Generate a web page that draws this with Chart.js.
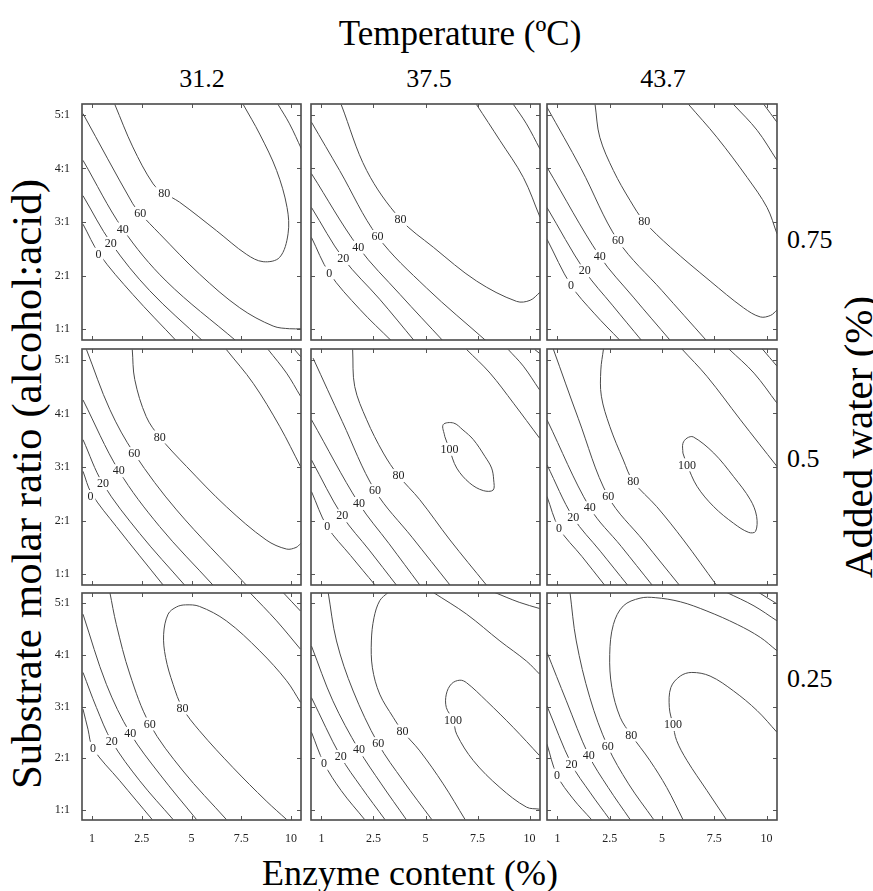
<!DOCTYPE html>
<html><head><meta charset="utf-8">
<script src="https://cdn.jsdelivr.net/npm/chart.js@4.4.0/dist/chart.umd.min.js"></script>
<style>
html,body{margin:0;padding:0;background:#fff;}
body{width:873px;height:891px;position:relative;overflow:hidden;font-family:"Liberation Serif","Times New Roman",serif;color:#000;}
.t{position:absolute;white-space:nowrap;line-height:1;transform:translate(-50%,-50%);}
.r{position:absolute;white-space:nowrap;line-height:1;transform:translate(0,-50%);}
.v{position:absolute;white-space:nowrap;line-height:1;transform:translate(-50%,-50%) rotate(-90deg);}
canvas{position:absolute;}
</style></head><body>
<div class="t" style="left:460px;top:33px;font-size:35px">Temperature (ºC)</div>
<div class="v" style="left:26px;top:484px;font-size:43px">Substrate molar ratio (alcohol:acid)</div>
<div class="v" style="left:858px;top:437px;font-size:41px">Added water (%)</div>
<div class="t" style="left:410px;top:873px;font-size:36px">Enzyme content (%)</div>
<script>
// ---- categories / tick labels ----
const temperatures = ['31.2', '37.5', '43.7'];
const waterLevels = ['0.75', '0.5', '0.25'];
const enzymeTicks = ['1', '2.5', '5', '7.5', '10'];      // shown at coded positions 0..4
const enzymeTickPos = [0, 1, 2, 3, 4];
const ratioTicks = ['1:1', '2:1', '3:1', '4:1', '5:1'];  // shown at 1..5
const ratioTickPos = [1, 2, 3, 4, 5];

// ---- contour lines per panel (level, label point, points [enzyme(coded), ratio]) ----
const w075_t312 = [
  {level:0, label:[0.13,2.40], pts:[[-0.18,2.96],[0.15,2.40],[0.82,1.65],[1.70,0.78]]},
  {level:20, label:[0.38,2.60], pts:[[-0.18,3.49],[0.39,2.60],[1.16,1.72],[2.23,0.78]]},
  {level:40, label:[0.62,2.87], pts:[[-0.18,4.15],[0.62,2.87],[1.49,1.90],[2.90,0.78]]},
  {level:60, label:[0.97,3.16], pts:[[-0.18,5.02],[0.82,3.34],[0.97,3.16],[1.36,2.78],[2.16,2.03],[2.97,1.40],[3.64,1.06],[3.97,1.01],[4.21,1.01]]},
  {level:80, label:[1.45,3.54], pts:[[0.46,5.19],[0.82,4.40],[1.23,3.71],[1.45,3.54],[1.76,3.37],[2.50,2.84],[3.10,2.40],[3.44,2.26],[3.77,2.34],[3.94,2.78],[3.92,3.27],[3.71,3.96],[3.37,4.64],[3.04,5.19]]},
  {level:60, label:null, pts:[[3.74,5.19],[3.97,4.83],[4.21,4.36]]}
];
const w075_t375 = [
  {level:0, label:[0.15,2.05], pts:[[-0.19,2.71],[0.15,2.05],[0.74,1.37],[1.35,0.78]]},
  {level:20, label:[0.42,2.32], pts:[[-0.19,3.27],[0.42,2.32],[1.12,1.56],[1.79,0.78]]},
  {level:40, label:[0.71,2.53], pts:[[-0.19,3.90],[0.71,2.53],[1.51,1.65],[2.34,0.78]]},
  {level:60, label:[1.08,2.73], pts:[[-0.19,4.86],[0.35,3.96],[1.08,2.73],[2.02,1.77],[3.17,0.78]]},
  {level:80, label:[1.52,3.05], pts:[[0.38,5.19],[0.87,3.96],[1.52,3.05],[2.15,2.53],[2.98,1.90],[3.75,1.52],[4.01,1.54],[4.20,1.69]]},
  {level:80, label:null, pts:[[2.98,5.19],[3.43,4.52],[3.88,3.83],[4.20,3.09]]},
  {level:60, label:null, pts:[[3.69,5.19],[3.94,4.83],[4.20,4.36]]}
];
const w075_t437 = [
  {level:0, label:[0.26,1.82], pts:[[-0.20,2.68],[0.26,1.82],[0.70,1.30],[1.20,0.79]]},
  {level:20, label:[0.52,2.09], pts:[[-0.20,3.27],[0.52,2.09],[1.05,1.45],[1.61,0.79]]},
  {level:40, label:[0.81,2.36], pts:[[-0.20,4.02],[0.81,2.36],[1.45,1.60],[2.16,0.79]]},
  {level:60, label:[1.16,2.65], pts:[[-0.20,5.14],[0.45,4.00],[1.16,2.65],[2.00,1.72],[2.85,0.79]]},
  {level:80, label:[1.66,3.01], pts:[[0.72,5.19],[0.81,4.58],[1.07,3.96],[1.39,3.40],[1.66,3.01],[2.16,2.53],[2.92,1.90],[3.56,1.40],[3.88,1.23],[4.08,1.26],[4.20,1.36]]},
  {level:80, label:null, pts:[[2.51,5.19],[3.05,4.58],[3.63,3.83],[4.01,3.27],[4.20,2.78]]},
  {level:60, label:null, pts:[[3.37,5.19],[3.82,4.71],[4.20,4.15]]},
  {level:40, label:null, pts:[[3.95,5.19],[4.20,4.86]]}
];
const w050_t312 = [
  {level:0, label:[-0.03,2.45], pts:[[-0.18,2.92],[-0.01,2.51],[0.49,1.89],[1.43,0.80]]},
  {level:20, label:[0.22,2.69], pts:[[-0.18,3.51],[0.22,2.69],[0.96,1.76],[1.86,0.80]]},
  {level:40, label:[0.54,2.93], pts:[[-0.18,4.25],[0.54,2.93],[1.36,1.89],[2.43,0.80]]},
  {level:60, label:[0.85,3.25], pts:[[-0.11,5.19],[0.36,4.07],[0.85,3.25],[1.70,2.20],[3.10,0.80]]},
  {level:80, label:[1.36,3.56], pts:[[0.81,5.19],[0.86,4.63],[1.09,3.94],[1.36,3.56],[1.90,3.01],[2.70,2.26],[3.50,1.64],[3.91,1.47],[4.10,1.50],[4.19,1.57]]},
  {level:80, label:null, pts:[[2.70,5.19],[3.24,4.56],[3.77,3.76],[4.19,3.01]]},
  {level:60, label:null, pts:[[3.54,5.19],[3.91,4.75],[4.19,4.32]]},
  {level:40, label:null, pts:[[4.07,5.19],[4.19,5.06]]}
];
const w050_t375 = [
  {level:0, label:[0.11,1.89], pts:[[-0.19,2.54],[0.11,1.89],[0.56,1.35],[1.03,0.80]]},
  {level:20, label:[0.40,2.09], pts:[[-0.19,3.13],[0.40,2.09],[0.92,1.45],[1.44,0.80]]},
  {level:40, label:[0.72,2.32], pts:[[-0.19,3.88],[0.72,2.32],[1.30,1.57],[1.89,0.80]]},
  {level:60, label:[1.03,2.56], pts:[[-0.16,5.03],[0.40,3.85],[1.03,2.56],[1.75,1.68],[2.47,0.80]]},
  {level:80, label:[1.48,2.84], pts:[[0.60,5.19],[0.64,4.50],[0.87,3.88],[1.19,3.26],[1.48,2.84],[1.89,2.39],[2.47,1.64],[3.17,0.80]]},
  {level:80, label:null, pts:[[2.79,5.19],[3.24,4.75],[3.69,4.19],[4.19,3.54]]},
  {level:60, label:null, pts:[[3.59,5.19],[3.88,4.88],[4.19,4.44]]},
  {level:40, label:null, pts:[[4.10,5.19],[4.19,5.12]]},
  {level:100, label:[2.46,3.33], pts:[[2.37,3.57],[2.34,3.79],[2.54,3.82],[2.72,3.69],[2.92,3.51],[3.14,3.20],[3.27,2.98],[3.31,2.76],[3.30,2.57],[3.11,2.56],[2.85,2.70],[2.60,2.98],[2.46,3.33],[2.37,3.57]]}
];
const w050_t437 = [
  {level:0, label:[0.03,1.86], pts:[[-0.20,2.45],[0.03,1.86],[0.47,1.33],[0.90,0.80]]},
  {level:20, label:[0.30,2.06], pts:[[-0.20,3.04],[0.30,2.06],[0.82,1.43],[1.34,0.80]]},
  {level:40, label:[0.62,2.24], pts:[[-0.20,3.88],[0.62,2.24],[1.22,1.52],[1.81,0.80]]},
  {level:60, label:[0.97,2.45], pts:[[-0.08,5.20],[0.40,3.90],[0.97,2.45],[1.65,1.62],[2.33,0.80]]},
  {level:80, label:[1.45,2.73], pts:[[0.88,5.20],[0.83,4.81],[0.84,4.32],[1.00,3.76],[1.26,3.13],[1.45,2.73],[1.90,2.26],[2.41,1.64],[3.04,0.80]]},
  {level:80, label:null, pts:[[2.38,5.20],[2.86,4.69],[3.50,3.88],[4.20,3.01]]},
  {level:60, label:null, pts:[[3.28,5.20],[3.76,4.75],[4.20,4.19]]},
  {level:40, label:null, pts:[[3.92,5.20],[4.20,4.88]]},
  {level:100, label:[2.48,3.04], pts:[[2.40,3.26],[2.40,3.44],[2.48,3.54],[2.60,3.56],[2.99,3.26],[3.37,2.82],[3.69,2.39],[3.81,2.08],[3.79,1.80],[3.66,1.78],[3.37,1.95],[2.99,2.26],[2.67,2.64],[2.48,3.04],[2.40,3.26]]}
];
const w025_t312 = [
  {level:0, label:[0.02,2.19], pts:[[-0.18,2.95],[-0.08,2.56],[0.02,2.19],[0.56,1.56],[1.21,0.81]]},
  {level:20, label:[0.40,2.32], pts:[[-0.18,3.66],[0.09,2.98],[0.40,2.32],[0.96,1.56],[1.63,0.81]]},
  {level:40, label:[0.77,2.48], pts:[[-0.18,4.79],[0.29,3.43],[0.77,2.48],[1.36,1.69],[2.10,0.81]]},
  {level:60, label:[1.16,2.66], pts:[[0.36,5.21],[0.49,4.59],[0.76,3.63],[1.16,2.66],[1.83,1.75],[2.70,0.81]]},
  {level:80, label:[1.82,2.97], pts:[[3.91,0.81],[3.50,1.17],[2.83,1.82],[2.16,2.53],[1.82,2.97],[1.63,3.43],[1.48,3.95],[1.44,4.40],[1.53,4.79],[1.70,4.93],[1.88,4.97],[2.16,4.94],[2.70,4.66],[3.37,4.08],[3.91,3.50],[4.19,3.08]]},
  {level:60, label:null, pts:[[3.17,5.21],[3.71,4.66],[4.19,4.11]]},
  {level:40, label:null, pts:[[3.84,5.21],[4.19,4.85]]}
];
const w025_t375 = [
  {level:0, label:[0.05,1.90], pts:[[-0.19,2.50],[0.05,1.90],[0.38,1.37],[0.83,0.81]]},
  {level:20, label:[0.37,2.03], pts:[[-0.19,3.17],[0.37,2.03],[0.77,1.43],[1.22,0.81]]},
  {level:40, label:[0.72,2.16], pts:[[-0.19,4.17],[0.22,3.11],[0.72,2.16],[1.15,1.50],[1.63,0.81]]},
  {level:60, label:[1.09,2.28], pts:[[0.13,5.21],[0.29,4.27],[0.61,3.30],[1.09,2.28],[1.57,1.56],[2.12,0.81]]},
  {level:80, label:[1.56,2.52], pts:[[1.28,5.21],[1.12,5.05],[1.01,4.72],[0.96,4.27],[0.98,3.75],[1.12,3.24],[1.38,2.79],[1.56,2.52],[1.89,2.14],[2.34,1.50],[2.76,0.81]]},
  {level:80, label:null, pts:[[2.15,5.21],[2.79,4.79],[3.43,4.27],[3.94,3.88],[4.19,3.63]]},
  {level:60, label:null, pts:[[3.33,5.21],[3.80,5.02],[4.19,4.90]]},
  {level:100, label:[2.53,2.74], pts:[[4.19,2.05],[3.69,2.59],[3.17,3.11],[2.79,3.46],[2.66,3.51],[2.50,3.44],[2.40,3.24],[2.40,2.98],[2.53,2.74],[2.60,2.46],[2.92,1.95],[3.43,1.43],[3.94,1.05],[4.19,1.01]]}
];
const w025_t437 = [
  {level:0, label:[-0.01,1.67], pts:[[-0.20,2.27],[-0.01,1.67],[0.30,1.21],[0.65,0.81]]},
  {level:20, label:[0.27,1.88], pts:[[-0.20,3.01],[0.27,1.88],[0.62,1.34],[1.00,0.81]]},
  {level:40, label:[0.60,2.05], pts:[[-0.20,4.05],[0.17,3.11],[0.60,2.05],[0.97,1.43],[1.39,0.81]]},
  {level:60, label:[0.96,2.23], pts:[[0.24,5.21],[0.36,4.27],[0.62,3.17],[0.96,2.23],[1.36,1.50],[1.84,0.81]]},
  {level:80, label:[1.41,2.45], pts:[[4.20,4.08],[3.88,4.34],[3.44,4.59],[2.86,4.85],[2.35,5.03],[1.87,5.11],[1.58,5.10],[1.26,4.95],[1.07,4.59],[1.00,4.01],[1.04,3.37],[1.20,2.79],[1.41,2.45],[1.77,1.95],[2.09,1.43],[2.40,0.81]]},
  {level:60, label:null, pts:[[3.24,5.21],[3.76,4.95],[4.20,4.66]]},
  {level:40, label:null, pts:[[3.85,5.21],[4.20,4.99]]},
  {level:100, label:[2.21,2.65], pts:[[4.20,2.50],[3.82,2.92],[3.37,3.30],[2.92,3.59],[2.57,3.66],[2.35,3.59],[2.17,3.37],[2.14,2.98],[2.21,2.65],[2.28,2.34],[2.48,1.95],[2.86,1.37],[3.23,0.81]]}
];

const panelGrid = [
  [w075_t312, w075_t375, w075_t437],
  [w050_t312, w050_t375, w050_t437],
  [w025_t312, w025_t375, w025_t437]
];

// ---- layout (pixels) ----
const colBox = [[82, 301], [311, 540], [547, 777]];
const rowBox = [[104, 340], [349, 585], [593, 820]];
const tempLabelX = [202, 429, 663];
const waterLabelY = [240, 459, 679];

temperatures.forEach((t, i) => {
  const d = document.createElement('div');
  d.className = 't'; d.textContent = t;
  d.style.cssText = `left:${tempLabelX[i]}px;top:79px;font-size:26px`;
  document.body.appendChild(d);
});
waterLevels.forEach((w, i) => {
  const d = document.createElement('div');
  d.className = 'r'; d.textContent = w;
  d.style.cssText = `left:787px;top:${waterLabelY[i]}px;font-size:26px`;
  document.body.appendChild(d);
});

const framePlugin = {
  id: 'frame',
  afterDraw(chart) {
    const ctx = chart.ctx, a = chart.chartArea, xs = chart.scales.x, ys = chart.scales.y;
    ctx.save();
    ctx.strokeStyle = '#555'; ctx.lineWidth = 1;
    ctx.beginPath();
    xs.ticks.forEach(t => {
      const x = Math.round(xs.getPixelForValue(t.value)) + 0.5;
      ctx.moveTo(x, a.bottom); ctx.lineTo(x, a.bottom - 4);
      ctx.moveTo(x, a.top); ctx.lineTo(x, a.top + 4);
    });
    ys.ticks.forEach(t => {
      const y = Math.round(ys.getPixelForValue(t.value)) + 0.5;
      ctx.moveTo(a.left, y); ctx.lineTo(a.left + 4, y);
      ctx.moveTo(a.right, y); ctx.lineTo(a.right - 4, y);
    });
    ctx.stroke();
    ctx.strokeStyle = '#4a4a4a'; ctx.lineWidth = 1.6;
    ctx.strokeRect(a.left, a.top, a.right - a.left, a.bottom - a.top);
    ctx.restore();
  }
};
const labelPlugin = {
  id: 'contourLabels',
  afterDatasetsDraw(chart) {
    const ctx = chart.ctx, xs = chart.scales.x, ys = chart.scales.y;
    ctx.save();
    ctx.font = '12px "Liberation Serif"';
    ctx.textAlign = 'center'; ctx.textBaseline = 'middle';
    chart.data.datasets.forEach(ds => {
      if (!ds.contourLabel) return;
      const px = xs.getPixelForValue(ds.contourLabel[0]);
      const py = ys.getPixelForValue(ds.contourLabel[1]);
      const w = ctx.measureText(ds.label).width + 4;
      ctx.fillStyle = '#fff';
      ctx.fillRect(px - w / 2, py - 6.5, w, 13);
      ctx.fillStyle = '#222';
      ctx.fillText(ds.label, px, py + 0.5);
    });
    ctx.restore();
  }
};

function makePanel(r, c, contours) {
  const [L, R] = colBox[c], [T, B] = rowBox[r];
  const padL = 45, padR = 16, padT = 16, padB = 24;
  const W = R - L + padL + padR, H = B - T + padT + padB;
  const cv = document.createElement('canvas');
  cv.width = W; cv.height = H;
  cv.style.left = (L - padL) + 'px'; cv.style.top = (T - padT) + 'px';
  cv.style.width = W + 'px'; cv.style.height = H + 'px';
  document.body.appendChild(cv);
  const showX = r === 2, showY = c === 0;
  const datasets = contours.map(ct => ({
    label: String(ct.level),
    contourLabel: ct.label,
    data: ct.pts.map(p => ({x: p[0], y: p[1]})),
    showLine: true, pointRadius: 0, pointHoverRadius: 0,
    borderColor: '#4a4a4a', borderWidth: 1, tension: 0.35, fill: false, clip: 0
  }));
  new Chart(cv, {
    type: 'scatter',
    data: {datasets},
    options: {
      responsive: false, animation: false, devicePixelRatio: 1,
      events: [],
      layout: {padding: {left: 0, right: padR, top: padT, bottom: 0}},
      plugins: {legend: {display: false}, tooltip: {enabled: false}},
      scales: {
        x: {
          type: 'linear', min: -0.2, max: 4.2,
          grid: {display: false}, border: {display: false},
          afterBuildTicks: s => { s.ticks = enzymeTickPos.map(v => ({value: v})); },
          afterFit: s => { s.height = padB; },
          ticks: {display: showX, padding: 4, color: '#222', autoSkip: false, maxRotation: 0,
                  font: {family: 'Liberation Serif', size: 12},
                  callback: (v, i) => enzymeTicks[i]}
        },
        y: {
          type: 'linear', min: 0.8, max: 5.2,
          grid: {display: false}, border: {display: false},
          afterBuildTicks: s => { s.ticks = ratioTickPos.map(v => ({value: v})); },
          afterFit: s => { s.width = padL; },
          ticks: {display: showY, padding: 4, color: '#222', autoSkip: false,
                  font: {family: 'Liberation Serif', size: 12},
                  callback: (v, i) => ratioTicks[i]}
        }
      }
    },
    plugins: [labelPlugin, framePlugin]
  });
}

panelGrid.forEach((row, r) => row.forEach((contours, c) => makePanel(r, c, contours)));
</script>
</body></html>
